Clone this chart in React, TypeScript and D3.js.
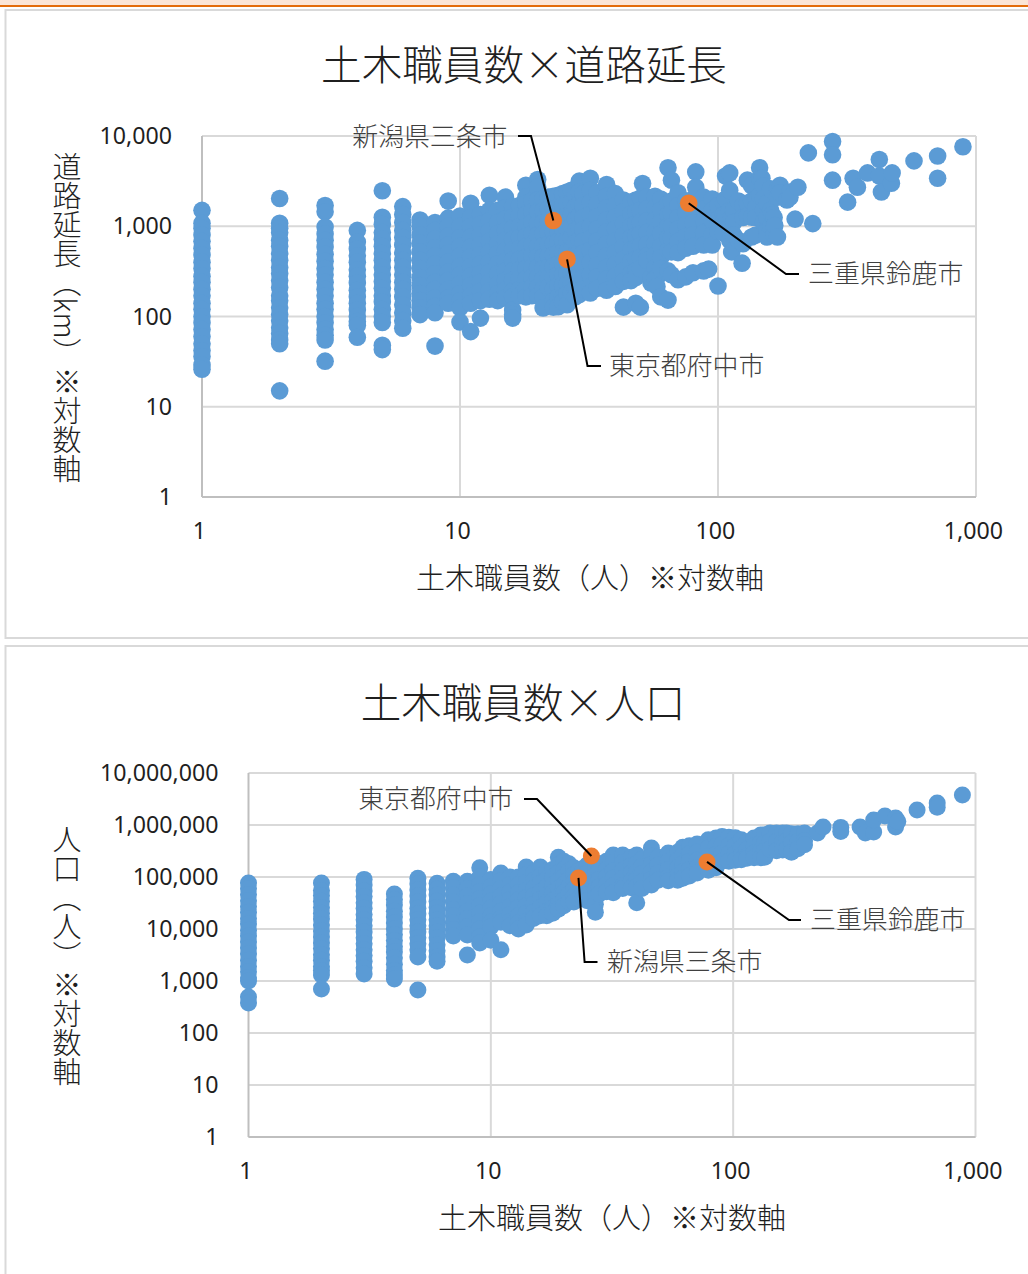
import React from 'react';
import * as d3 from 'd3';

type Col = [number, number[]];

const xTicks = [1, 10, 100, 1000];
const roadTicks = [1, 10, 100, 1000, 10000];
const popTicks = [1, 10, 100, 1000, 10000, 100000, 1000000, 10000000];

const roadColumns: Col[] = [
  [1, [1500, 1080, 950, 800, 680, 570, 480, 400, 340, 280, 240, 200, 170, 140, 120, 100, 85, 72, 60, 50, 42, 36, 29, 26]],
  [2, [2030, 1080, 950, 850, 700, 600, 500, 420, 350, 300, 250, 210, 170, 150, 125, 105, 90, 75, 65, 55, 50, 15]],
  [3, [1700, 1450, 980, 820, 700, 590, 490, 410, 340, 290, 240, 200, 170, 140, 120, 100, 85, 72, 62, 55, 32]],
  [4, [900, 670, 560, 470, 400, 330, 280, 235, 195, 165, 140, 118, 100, 88, 80, 59]],
  [5, [2470, 1260, 1050, 850, 720, 600, 500, 420, 350, 290, 245, 205, 170, 145, 120, 100, 86, 48, 43]],
  [6, [1650, 1350, 1100, 900, 750, 620, 510, 420, 350, 290, 240, 200, 165, 135, 110, 90, 74]],
  [7, [1170, 1000, 800, 650, 520, 420, 340, 270, 220, 180, 150, 125, 105]],
  [8, [1100, 900, 720, 580, 470, 380, 300, 240, 200, 160, 130, 110, 47]],
  [9, [1900, 1230, 1000, 780, 620, 500, 400, 310, 250, 200, 160, 140]],
  [10, [1300, 1000, 750, 600, 470, 360, 290, 230, 180, 150, 125, 87]],
  [11, [1800, 1250, 1000, 760, 590, 460, 360, 280, 220, 170, 140, 68]],
  [12, [1350, 1050, 800, 620, 480, 380, 300, 240, 190, 150, 96]],
  [13, [2200, 1500, 1150, 880, 680, 520, 400, 310, 240, 190, 155]],
  [14, [1500, 1100, 830, 640, 500, 380, 300, 230, 180, 150]],
  [15, [2100, 1600, 1200, 900, 700, 540, 410, 320, 250, 195, 160]],
  [16, [1650, 1250, 950, 720, 550, 420, 320, 250, 190, 165, 118, 105, 96]],
  [17, [1700, 1300, 1000, 750, 570, 430, 330, 260, 200, 170]],
  [18, [2840, 2100, 1800, 1350, 1000, 770, 590, 450, 340, 260, 200, 165]],
  [19, [1900, 1450, 1100, 820, 620, 470, 350, 270, 210, 170]],
  [20, [3300, 2700, 1950, 1450, 1080, 800, 600, 460, 350, 270, 210, 170]],
  [21, [2000, 1500, 1100, 820, 610, 460, 340, 260, 200, 165, 124]],
  [22, [2100, 1550, 1150, 850, 630, 470, 350, 270, 210]],
  [23, [2150, 1600, 1160, 870, 650, 480, 360, 270, 200, 150, 127]],
  [24, [2200, 1650, 1200, 900, 680, 510, 380, 290, 220, 165, 128]],
  [25, [2300, 1700, 1250, 950, 700, 520, 390, 290, 220, 165, 145]],
  [26, [2400, 1800, 1300, 950, 700, 520, 400, 300, 230, 180, 135]],
  [27, [2500, 1850, 1350, 1000, 740, 550, 410, 310, 240, 185]],
  [28, [2250, 1650, 1200, 900, 660, 490, 360, 270, 205, 165]],
  [29, [3160, 2400, 1750, 1300, 950, 700, 520, 380, 280, 210, 175]],
  [30, [2300, 1700, 1250, 920, 680, 500, 370, 270, 200]],
  [32, [3400, 2500, 1850, 1350, 1000, 730, 540, 400, 290, 215, 182]],
  [34, [2350, 1750, 1280, 940, 690, 510, 370, 275, 205]],
  [37, [2900, 2150, 1600, 1180, 870, 640, 470, 350, 260, 195]],
  [40, [2300, 1700, 1260, 930, 690, 510, 380, 280, 215]],
  [43, [1950, 1450, 1070, 790, 590, 430, 320, 245, 127]],
  [46, [1850, 1370, 1010, 750, 550, 410, 300, 250]],
  [48, [1950, 1430, 1060, 780, 580, 430, 320, 270, 140]],
  [50, [2050, 1500, 1110, 820, 610, 450, 340, 127]],
  [51, [2980]],
  [53, [2100, 1550, 1150, 850, 630, 470, 420]],
  [55, [235, 270]],
  [57, [2150, 1600, 1180, 870, 650, 480, 350, 265]],
  [58, [270, 215]],
  [60, [2000, 1500, 1100, 820, 600, 450, 340, 165]],
  [64, [4440, 1800, 1350, 1000, 740, 540, 320, 152]],
  [66, [3240, 1900, 1400, 1000, 740, 520, 290]],
  [70, [2350, 1700, 1250, 930, 680, 510, 255]],
  [75, [1900, 1400, 1040, 770, 570, 275]],
  [80, [2000, 1500, 1100, 800, 600, 305]],
  [82, [4000, 2700]],
  [88, [2100, 1550, 1150, 850, 620, 320]],
  [92, [335]],
  [95, [2000, 1500, 1150, 800, 620]],
  [100, [1700, 1200, 880, 218]],
  [105, [1800, 1350, 1100, 840]],
  [107, [3600, 2000, 1350]],
  [111, [3900, 2500, 1500, 1000, 700]],
  [113, [1260, 520]],
  [115, [1500, 1100, 800]],
  [120, [1900, 700]],
  [124, [390]],
  [125, [1700, 1250, 640]],
  [130, [3240, 1800, 1300]],
  [135, [2800, 1900, 1260, 760]],
  [140, [2000, 1600, 1250, 800]],
  [145, [4440, 3400, 2200]],
  [148, [3400]],
  [150, [2800, 2000, 1500, 1100]],
  [155, [1800, 1250, 900, 760]],
  [160, [2600, 1500, 1000]],
  [162, [1340]],
  [165, [1250, 1000, 800]],
  [166, [1020]],
  [170, [2600, 2100, 760]],
  [174, [2840, 2350]],
  [185, [1950]],
  [190, [2400, 2100]],
  [199, [1200]],
  [204, [2700]],
  [224, [6500]],
  [233, [1070]],
  [278, [8700, 6200, 3240]],
  [318, [1850]],
  [334, [3400]],
  [347, [2700]],
  [380, [3900]],
  [422, [5500, 3600]],
  [430, [2400]],
  [470, [3000]],
  [473, [3900]],
  [575, [5300]],
  [710, [6000, 3400]],
  [890, [7600]],
];

const popColumns: Col[] = [
  [1, [76700, 60000, 46000, 35000, 27000, 21000, 16000, 12500, 9500, 7300, 5600, 4300, 3300, 2500, 1900, 1500, 1150, 1000, 490, 378]],
  [2, [76700, 55000, 44000, 34000, 26000, 20000, 15500, 12000, 9200, 7000, 5400, 4200, 3200, 2500, 1900, 1600, 1310, 700]],
  [3, [90000, 70000, 54000, 42000, 32000, 25000, 19000, 15000, 11500, 8800, 6800, 5200, 4000, 3100, 2400, 1800, 1370]],
  [4, [47000, 37000, 29000, 22000, 17000, 13000, 10000, 7800, 6000, 4600, 3600, 2800, 2100, 1600, 1300, 1090]],
  [5, [95000, 73000, 56000, 43000, 33000, 25000, 19500, 15000, 11500, 8800, 6800, 5200, 4000, 2900, 670]],
  [6, [76000, 58000, 45000, 34000, 26000, 20000, 15000, 11500, 8800, 6800, 5000, 3800, 2900, 2400]],
  [7, [83000, 62000, 45000, 33000, 24000, 18000, 13000, 9800, 7300]],
  [8, [83000, 60000, 43000, 31000, 22000, 16000, 11000, 7700, 3150]],
  [9, [150000, 100000, 72000, 52000, 38000, 28000, 20000, 14000, 10000, 7000, 5400]],
  [10, [90000, 65000, 47000, 34000, 25000, 18000, 13500, 11000, 6100]],
  [11, [119000, 85000, 60000, 43000, 31000, 22000, 16000, 13500, 4000]],
  [12, [100000, 72000, 52000, 37000, 27000, 19000, 14000, 11500]],
  [13, [100000, 70000, 50000, 36000, 26000, 18000, 13000, 10000]],
  [14, [155000, 110000, 78000, 55000, 40000, 28000, 20000, 14000, 12000]],
  [15, [120000, 85000, 60000, 43000, 30000, 21000, 16000]],
  [16, [155000, 105000, 75000, 52000, 37000, 26000, 18000]],
  [17, [130000, 90000, 65000, 45000, 32000, 22000, 18000]],
  [18, [140000, 100000, 70000, 50000, 35000, 25000, 20000]],
  [19, [240000, 170000, 120000, 85000, 60000, 42000, 30000, 24000]],
  [20, [200000, 140000, 100000, 72000, 50000, 36000, 28000]],
  [21, [180000, 130000, 90000, 65000, 47000, 33000]],
  [22, [150000, 110000, 80000, 58000, 42000, 33000]],
  [23, [130000, 70000, 50000, 38000]],
  [24, [145000, 105000, 75000, 55000, 40000]],
  [25, [170000, 120000, 85000, 62000, 45000, 35000]],
  [27, [150000, 110000, 80000, 58000, 40000, 30000, 21000]],
  [28, [180000, 130000, 90000, 65000, 47000]],
  [30, [200000, 140000, 100000, 72000, 52000]],
  [32, [265000, 190000, 130000, 95000, 68000, 50000]],
  [35, [265000, 190000, 135000, 95000, 68000, 60000]],
  [38, [240000, 170000, 120000, 85000, 62000]],
  [40, [265000, 180000, 125000, 90000, 65000, 32000]],
  [42, [220000, 160000, 115000, 80000, 60000]],
  [46, [360000, 250000, 175000, 125000, 90000, 70000]],
  [49, [240000, 170000, 120000, 87000]],
  [54, [290000, 200000, 140000, 100000, 85000]],
  [59, [300000, 210000, 150000, 105000, 87000]],
  [62, [375000, 260000, 180000, 125000, 95000]],
  [66, [400000, 280000, 200000, 140000, 105000]],
  [71, [430000, 300000, 210000, 150000, 120000]],
  [79, [520000, 360000, 250000, 170000, 135000]],
  [85, [560000, 390000, 270000, 190000, 150000]],
  [90, [600000, 420000, 290000, 200000]],
  [96, [580000, 400000, 280000, 200000]],
  [102, [570000, 400000, 280000, 210000]],
  [108, [520000, 360000, 260000, 215000]],
  [114, [470000, 340000, 250000, 230000]],
  [122, [560000, 400000, 290000, 235000]],
  [130, [640000, 450000, 320000, 235000]],
  [135, [650000, 450000, 320000, 240000]],
  [142, [700000, 480000, 340000]],
  [151, [700000, 480000, 320000]],
  [160, [700000, 470000, 330000]],
  [166, [700000, 500000, 340000]],
  [174, [680000, 450000, 300000]],
  [185, [680000, 480000, 350000]],
  [197, [700000, 500000, 415000]],
  [223, [700000]],
  [235, [915000]],
  [278, [900000, 750000]],
  [334, [915000]],
  [351, [700000]],
  [380, [730000, 1250000]],
  [423, [1490000]],
  [468, [1370000, 915000]],
  [478, [1170000]],
  [574, [1940000]],
  [695, [2650000, 2200000]],
  [883, [3770000]],
];

const cityNames = ['新潟県三条市', '東京都府中市', '三重県鈴鹿市'];
const cityStaff = [23, 26, 77];
const cityRoad = [1160, 430, 1800];
const cityStaff2 = [23, 26, 78];
const cityPop = [96000, 253000, 195000];

const FONT = '"Noto Sans CJK JP", "Noto Sans", sans-serif';
const NUM = '"Noto Sans", sans-serif';
const BLUE = '#5B9BD5';
const ORANGE = '#ED7D31';
const GRID = '#D9D9D9';
const AXIS = '#BFBFBF';
const INK = '#1F1F1F';

type Leader = { name: string; elbow: [number, number]; end: [number, number]; labelX: number; anchor: string; labelY: number };

function Scatter(props: {
  title: string; titleY: number; titleX: number;
  xLabel: string; xLabelX: number; xLabelY: number;
  yLabel: string; yLabelY: number; r: number;
  plot: { left: number; right: number; top: number; bottom: number };
  yDomainMax: number; yTicks: number[];
  cols: Col[]; hx: number[]; hy: number[]; leaders: Leader[];
}) {
  const { plot, r } = props;
  const x = d3.scaleLog().domain([1, 1000]).range([plot.left, plot.right]);
  const y = d3.scaleLog().domain([1, props.yDomainMax]).range([plot.bottom, plot.top]);
  const fmt = d3.format(',');
  const pts = props.cols.flatMap(([sx, ys]) => ys.map((v) => [sx, v] as [number, number]));
  return (
    <g>
      <text x={props.titleX} y={props.titleY} textAnchor="middle" dominantBaseline="central" fontFamily={FONT} fontSize={40.6} fontWeight={300} fill={INK}>{props.title}</text>
      {props.yTicks.map((t) => (
        <line key={'gy' + t} x1={plot.left} x2={plot.right} y1={y(t)} y2={y(t)} stroke={GRID} strokeWidth={2} />
      ))}
      {xTicks.map((t) => (
        <line key={'gx' + t} x1={x(t)} x2={x(t)} y1={plot.top} y2={plot.bottom} stroke={t === 1 ? AXIS : GRID} strokeWidth={2} />
      ))}
      <line x1={plot.left} x2={plot.right} y1={plot.bottom} y2={plot.bottom} stroke={AXIS} strokeWidth={2} />
      {xTicks.map((t) => (
        <text key={'tx' + t} x={x(t) - 2.5} y={plot.bottom + 33} textAnchor="middle" dominantBaseline="central" fontFamily={NUM} fontSize={23.2} fill={INK}>{fmt(t)}</text>
      ))}
      {props.yTicks.map((t) => (
        <text key={'ty' + t} x={plot.left - 30} y={y(t) - 1} textAnchor="end" dominantBaseline="central" fontFamily={NUM} fontSize={23.2} fill={INK}>{fmt(t)}</text>
      ))}
      <text x={props.xLabelX} y={props.xLabelY} textAnchor="middle" dominantBaseline="central" fontFamily={FONT} fontSize={29} fontWeight={300} fill={INK}>{props.xLabel}</text>
      <text x={67} y={props.yLabelY} textAnchor="middle" dominantBaseline="central" fontFamily={FONT} fontSize={29} fontWeight={300} fill={INK} style={{ writingMode: 'vertical-rl' }}>{props.yLabel}</text>
      {pts.map(([a, b], i) => (
        <circle key={i} cx={x(a)} cy={y(b)} r={r} fill={BLUE} />
      ))}
      {props.hx.map((a, i) => (
        <circle key={'h' + i} cx={x(a)} cy={y(props.hy[i])} r={r} fill={ORANGE} />
      ))}
      {props.leaders.map((l, i) => (
        <g key={'l' + i}>
          <path d={d3.line()([[x(props.hx[i]), y(props.hy[i])], l.elbow, l.end]) || ''} fill="none" stroke="#000" strokeWidth={2} />
          <text x={l.labelX} y={l.labelY} textAnchor={l.anchor} dominantBaseline="central" fontFamily={FONT} fontSize={25.9} fontWeight={300} fill="#404040">{l.name}</text>
        </g>
      ))}
    </g>
  );
}

export default function App() {
  return (
    <svg width={1028} height={1274} style={{ position: 'absolute', left: 0, top: 0, background: '#fff' }}>
      <rect x={0} y={0} width={1028} height={5} fill="#FBE5D6" />
      <rect x={0} y={5} width={1028} height={2} fill="#E36C0A" />
      <path d="M1030 10H5.5V638H1030" fill="none" stroke={GRID} strokeWidth={2} />
      <path d="M1030 646H5.5V1280" fill="none" stroke={GRID} strokeWidth={2} />
      <Scatter
        title="土木職員数×道路延長" titleX={524} titleY={62.5} r={8.8}
        xLabel="土木職員数（人）※対数軸" xLabelX={590} xLabelY={576}
        yLabel="道路延長（km）※対数軸" yLabelY={318}
        plot={{ left: 202, right: 976, top: 136, bottom: 497 }}
        yDomainMax={10000} yTicks={roadTicks} cols={roadColumns}
        hx={cityStaff} hy={cityRoad}
        leaders={[
          { name: cityNames[0], elbow: [531, 136], end: [518, 136], labelX: 507.5, anchor: 'end', labelY: 134.5 },
          { name: cityNames[1], elbow: [587.5, 366], end: [601, 366], labelX: 609, anchor: 'start', labelY: 363.5 },
          { name: cityNames[2], elbow: [786, 274], end: [799, 274], labelX: 808, anchor: 'start', labelY: 271.5 },
        ]}
      />
      <Scatter
        title="土木職員数×人口" titleX={523} titleY={700} r={8.5}
        xLabel="土木職員数（人）※対数軸" xLabelX={612} xLabelY={1216}
        yLabel="人口（人）※対数軸" yLabelY={956}
        plot={{ left: 248.5, right: 975.5, top: 773, bottom: 1137 }}
        yDomainMax={10000000} yTicks={popTicks} cols={popColumns}
        hx={cityStaff2} hy={cityPop}
        leaders={[
          { name: cityNames[0], elbow: [584.6, 962], end: [597.5, 962], labelX: 607, anchor: 'start', labelY: 959.5 },
          { name: cityNames[1], elbow: [537, 799], end: [524, 799], labelX: 513.5, anchor: 'end', labelY: 796.5 },
          { name: cityNames[2], elbow: [789, 920], end: [801, 920], labelX: 810, anchor: 'start', labelY: 917.5 },
        ]}
      />
    </svg>
  );
}
